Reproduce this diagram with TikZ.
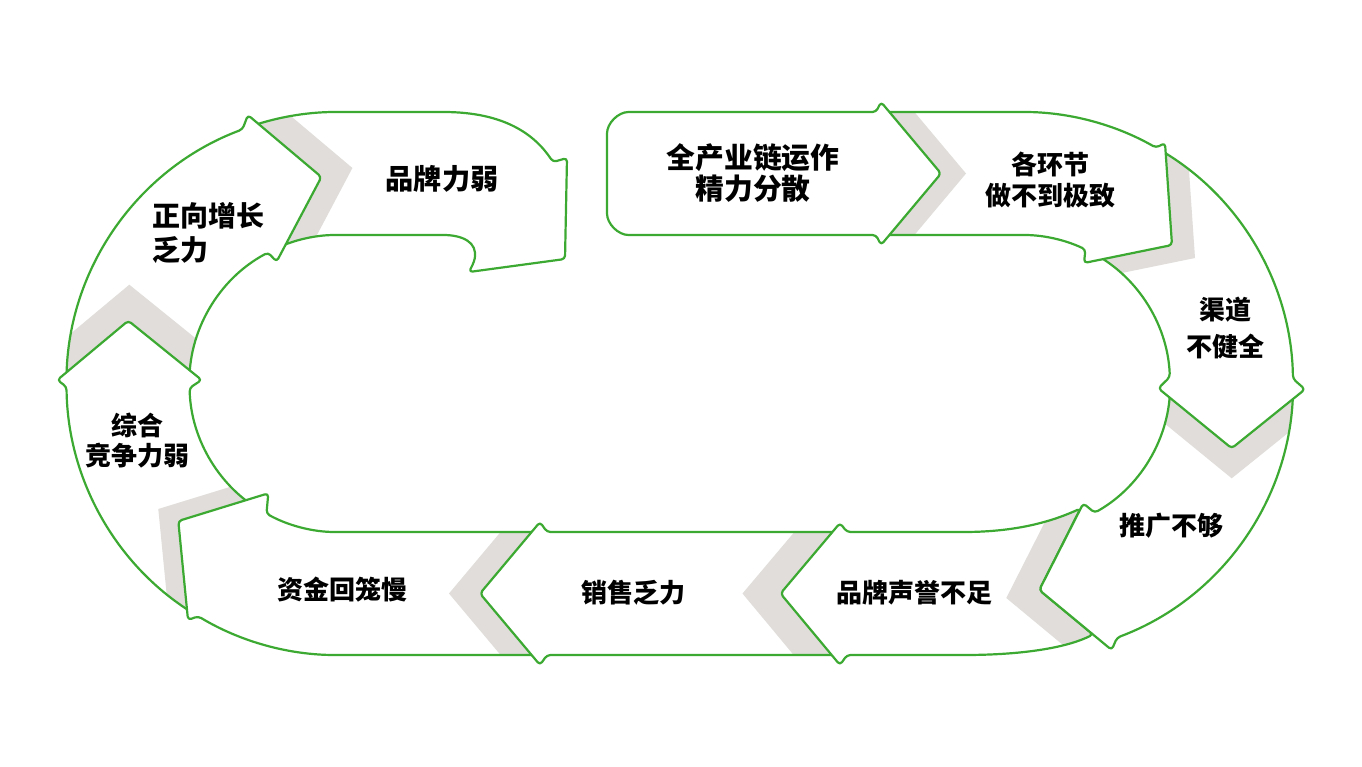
\documentclass[tikz,border=0pt]{standalone}
\usepackage{fontspec}
\usetikzlibrary{calc}
\newfontfamily\cjk{Noto Sans CJK SC}
\definecolor{lg}{HTML}{3CAA32}
\definecolor{shc}{HTML}{E0DDDA}
\tikzset{
  outl/.style={draw=lg, line width=2.2pt, rounded corners=3.5pt, line join=round},
  bodyfill/.style={fill=white, rounded corners=3.5pt},
  lbl/.style={font=\cjk\bfseries\fontsize{26}{32.5}\selectfont, align=center, inner sep=0pt, text=black},
}
\newcommand\headshadow[4]{\fill[shc] ($(#1)+(#4)$) -- ($(#1)!1.6!(#2)+(#4)$) -- ($(#1)!1.6!(#2)$) -- (#1) -- ($(#1)!1.6!(#3)$) -- ($(#1)!1.6!(#3)+(#4)$) -- cycle;}
\begin{document}
\begin{tikzpicture}[x=1pt,y=-1pt]
\useasboundingbox (0,0) rectangle (1362,766);
\fill[white] (0,0) rectangle (1362,766);
\coordinate (CL) at (338,383.5);
\coordinate (CR) at (1021.5,383.5);
% head tips and ears
\coordinate (Ta) at (941,173.5);  \coordinate (Aa) at (881,102);   \coordinate (Ba) at (881,245);
\coordinate (Tb) at (1172,245);   \coordinate (Ab) at (1165,143);  \coordinate (Bb) at (1084,263);
\coordinate (Tc) at (1231.7,448.3); \coordinate (Ac) at (1305,389.3); \coordinate (Bc) at (1158.3,388.3);
\coordinate (Td) at (1039.3,590); \coordinate (Ad) at (1111.7,650); \coordinate (Bd) at (1083.3,503.3);
\coordinate (Te) at (780.5,593.5); \coordinate (Ae) at (840,523);  \coordinate (Be) at (840,665);
\coordinate (Tf) at (480,593.5);  \coordinate (Af) at (540,522);   \coordinate (Bf) at (540,665);
\coordinate (Tg) at (178.3,521);  \coordinate (Ag) at (268.3,493.3); \coordinate (Bg) at (188,620);
\coordinate (Th) at (128.3,320.7); \coordinate (Ah) at (57.3,380); \coordinate (Bh) at (201.7,380);
\coordinate (Ti) at (321.4,177);  \coordinate (Ai) at (247.9,115); \coordinate (Bi) at (276.6,261.7);
% body paths
\def\pA{(876,112) -- (632,112) arc[start angle=-90,end angle=-180,radius=25] -- (607,210) arc[start angle=180,end angle=90,radius=25] -- (876,235) -- (Ba) -- (Ta) -- (Aa) -- cycle}
\def\pB{(876,112) -- (1021.5,112) arc[start angle=-90,end angle=-60.3,radius=271.5] -- (Ab) -- (Tb) -- (Bb) -- ($(CR)+(-64.5:148.5)$) arc[start angle=-64.5,end angle=-90,radius=148.5] -- (876,235) -- cycle}
\def\pC{($(CR)+(-60.3:271.5)$) arc[start angle=-60.3,end angle=-1,radius=271.5] -- (Ac) -- (Tc) -- (Bc) -- ($(CR)+(-2.5:148.5)$) arc[start angle=-2.5,end angle=-64.5,radius=148.5] -- cycle}
\def\pD{($(CR)+(-1:271.5)$) arc[start angle=-1,end angle=69.4,radius=271.5] -- (Ad) -- (Td) -- (Bd) -- ($(CR)+(60.5:148.5)$) arc[start angle=60.5,end angle=-2.5,radius=148.5] -- cycle}
\def\pE{(847,532) -- (960,532) .. controls (1020,532) and (1055,520) .. (1080.5,508.5) -- (Td) -- (1093,634.5) .. controls (1070,646) and (1030,655) .. (960,655) -- (847,655) -- (Be) -- (Te) -- (Ae) -- cycle}
\def\pF{(847,532) -- (547,532) -- (Af) -- (Tf) -- (Bf) -- (547,655) -- (847,655) -- cycle}
\def\pG{(547,532) -- (338,532) arc[start angle=90,end angle=118.8,radius=148.5] -- (Ag) -- (Tg) -- (Bg) -- ($(CL)+(121:271.5)$) arc[start angle=121,end angle=90,radius=271.5] -- (547,655) -- cycle}
\def\pH{($(CL)+(121:271.5)$) arc[start angle=121,end angle=179.3,radius=271.5] -- (Ah) -- (Th) -- (Bh) -- ($(CL)+(178.3:148.5)$) arc[start angle=178.3,end angle=118.8,radius=148.5] -- cycle}
\def\pI{($(CL)+(179.3:271.5)$) arc[start angle=179.3,end angle=249.4,radius=271.5] -- (Ai) -- (Ti) -- (Bi) -- ($(CL)+(241.9:148.5)$) arc[start angle=241.9,end angle=178.3,radius=148.5] -- cycle}
\def\pJ{($(CL)+(249.4:271.5)$) arc[start angle=249.4,end angle=270,radius=271.5] -- (440,112) .. controls (505,112) and (535,135) .. (553,162) -- (567,158) -- (565,259) -- (469,272) -- (474,262) .. controls (478,242) and (462,235) .. (440,235) -- (338,235) arc[start angle=270,end angle=241.9,radius=148.5] -- cycle}
% J
\fill[bodyfill] \pJ;
\begin{scope}\clip \pJ; \headshadow{Ti}{Ai}{Bi}{31,-9}\end{scope}
\draw[outl] \pJ;
% I
\fill[bodyfill] \pI;
\begin{scope}\clip \pI; \headshadow{Th}{Ah}{Bh}{1,-36}\end{scope}
\draw[outl] \pI;
% H
\fill[bodyfill] \pH;
\begin{scope}\clip \pH; \headshadow{Tg}{Ag}{Bg}{-20,-12}\end{scope}
\draw[outl] \pH;
% G
\fill[bodyfill] \pG;
\begin{scope}\clip \pG; \headshadow{Tf}{Af}{Bf}{-31,0}\end{scope}
\draw[outl] \pG;
% F
\fill[bodyfill] \pF;
\begin{scope}\clip \pF; \headshadow{Te}{Ae}{Be}{-38,0}\end{scope}
\draw[outl] \pF;
% E
\fill[bodyfill] \pE;
\begin{scope}\clip \pE; \headshadow{Td}{Ad}{Bd}{-33,8}\end{scope}
\draw[outl] \pE;
% D
\fill[bodyfill] \pD;
\begin{scope}\clip \pD; \headshadow{Tc}{Ac}{Bc}{0,30}\end{scope}
\draw[outl] \pD;
% C
\fill[bodyfill] \pC;
\begin{scope}\clip \pC; \headshadow{Tb}{Ab}{Bb}{23,13}\end{scope}
\draw[outl] \pC;
% B
\fill[bodyfill] \pB;
\begin{scope}\clip \pB; \headshadow{Ta}{Aa}{Ba}{25,0}\end{scope}
\draw[outl] \pB;
% A
\fill[bodyfill] \pA;
\draw[outl] \pA;
% labels
\node[lbl, font=\cjk\bfseries\fontsize{28.2}{32}\selectfont] (t1) at (442,178.5) {品牌力弱};
\node[lbl, font=\cjk\bfseries\fontsize{28.8}{31}\selectfont] (t2) at (753,173) {全产业链运作\\精力分散};
\node[lbl, font=\cjk\bfseries\fontsize{26}{31}\selectfont] (t3) at (1050,179.5) {各环节\\做不到极致};
\node[lbl, font=\cjk\bfseries\fontsize{26}{37}\selectfont] (t4) at (1225,327.5) {渠道\\不健全};
\node[lbl] (t5) at (1171,526) {推广不够};
\node[lbl] (t6) at (914,593) {品牌声誉不足};
\node[lbl] (t7) at (633,593) {销售乏力};
\node[lbl] (t8) at (342,590) {资金回笼慢};
\node[lbl, font=\cjk\bfseries\fontsize{26}{30}\selectfont] (t9) at (137.5,441) {综合\\竞争力弱};
\node[lbl, align=left, anchor=west, font=\cjk\bfseries\fontsize{28}{34.5}\selectfont] (t10) at (152.5,233) {正向增长\\乏力};
\end{tikzpicture}
\end{document}
